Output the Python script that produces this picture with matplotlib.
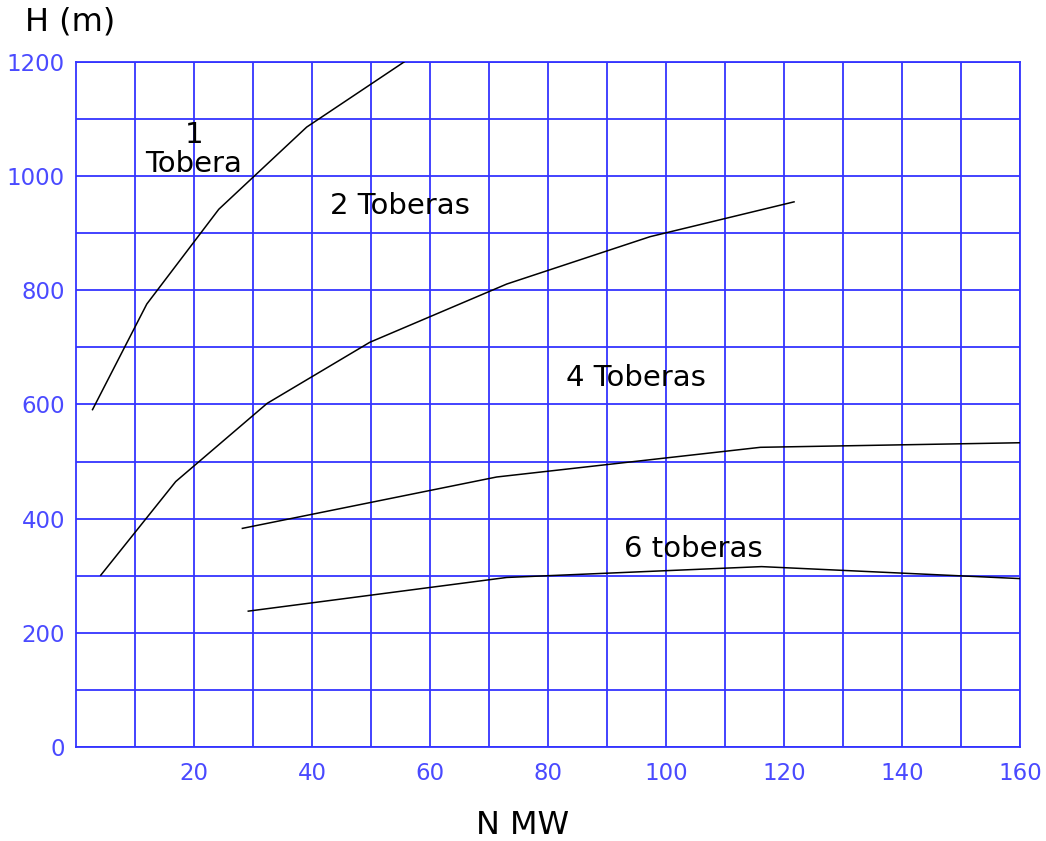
import numpy as np
import matplotlib.pyplot as plt

# curves: N (MW) vs H (m)
N_1 = [2.8, 12.0, 24.2, 39.1, 55.6]
H_1 = [591, 776, 942, 1086, 1200]

N_2 = [4.2, 16.9, 32.4, 49.8, 73.0, 97.3, 121.7]
H_2 = [301, 465, 602, 709, 811, 894, 955]

N_4 = [28.2, 71.3, 116.0, 160.0]
H_4 = [383, 473, 525, 533]

N_6 = [29.2, 73.0, 116.2, 160.0]
H_6 = [238, 297, 316, 295]

X_TICKS = [20, 40, 60, 80, 100, 120, 140, 160]
Y_TICKS = [0, 200, 400, 600, 800, 1000, 1200]

BLUE = '#3434ff'
TICK_BLUE = '#4a4aff'

fig = plt.figure(figsize=(10.46, 8.41), dpi=100)
ax = fig.add_axes([76 / 1046, 1 - 747 / 841, 944 / 1046, 685 / 841])

for xs, ys in [(N_1, H_1), (N_2, H_2), (N_4, H_4), (N_6, H_6)]:
    ax.plot(xs, ys, color='black', lw=1.1, zorder=3)

ax.set_xlim(0, 160)
ax.set_ylim(0, 1200)
ax.set_xticks(X_TICKS)
ax.set_xticks(np.arange(10, 160, 20), minor=True)
ax.set_yticks(Y_TICKS)
ax.set_yticks(np.arange(100, 1200, 200), minor=True)
ax.grid(True, which='both', color=BLUE, lw=1.3)
ax.tick_params(which='both', length=0, colors=TICK_BLUE, labelsize=16.5)
ax.tick_params(axis='x', pad=11)
ax.tick_params(axis='y', pad=8)
for s in ax.spines.values():
    s.set_color(BLUE)
    s.set_linewidth(1.3)

# curve labels
lab = dict(ha='center', va='center', fontsize=21)
ax.text(20, 1072, '1', **lab)
ax.text(20, 1022, 'Tobera', **lab)
ax.text(54.9, 947, '2 Toberas', **lab)
ax.text(94.9, 646, '4 Toberas', **lab)
ax.text(104.7, 346, '6 toberas', **lab)

fig.text(25 / 1046, 1 - 22 / 841, 'H (m)', ha='left', va='center', fontsize=23)
fig.text(523 / 1046, 1 - 825 / 841, 'N MW', ha='center', va='center', fontsize=23)

fig.savefig('out.png', dpi=100)
